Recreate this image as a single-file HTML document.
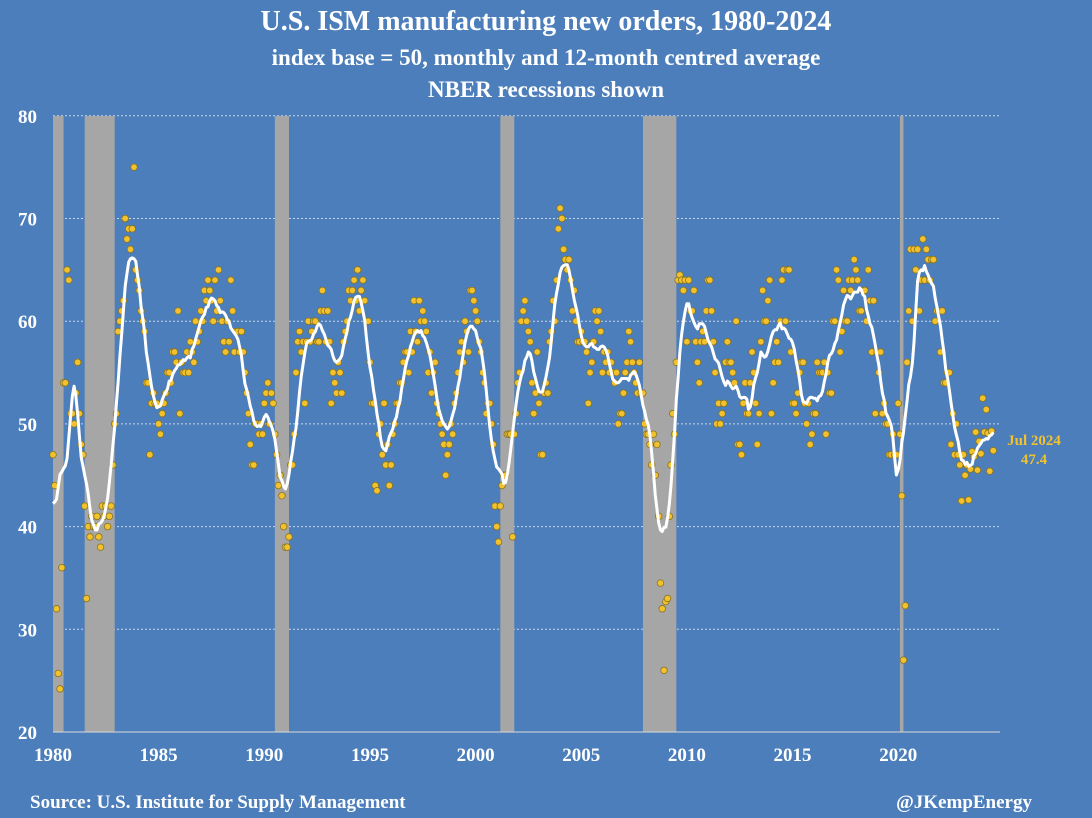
<!DOCTYPE html>
<html><head><meta charset="utf-8"><style>
body{margin:0;background:#4b7ebb;}
#c{position:relative;width:1092px;height:818px;background:#4b7ebb;font-family:"Liberation Serif",serif;color:#fff;overflow:hidden}
.t{position:absolute;left:0;width:1092px;text-align:center;font-weight:bold}
</style></head><body>
<div id="c">
<div class="t" style="top:6px;font-size:28px">U.S. ISM manufacturing new orders, 1980-2024</div>
<div class="t" style="top:45px;font-size:23px">index base = 50, monthly and 12-month centred average</div>
<div class="t" style="top:77px;font-size:23px">NBER recessions shown</div>
<svg id="s" width="1092" height="818" style="position:absolute;left:0;top:0"></svg>
<div style="position:absolute;left:30px;top:792px;font-size:19px;font-weight:bold">Source: U.S. Institute for Supply Management</div>
<div style="position:absolute;right:60px;top:792px;font-size:19px;font-weight:bold">@JKempEnergy</div>
</div>
<script>
const prior1979=[52,51,50,50,48,47];
const monthly=[
47,44,32,25.7,24.2,36,54,54,65,64,51,51,
50,53,56,51,48,47,42,33,40,39,41,40,
40,41,39,38,42,41,42,40,41,42,46,50,
51,59,60,61,62,70,68,69,67,69,75,65,
64,63,61,60,59,54,54,47,52,53,52,52,
50,49,51,52,53,55,55,54,57,57,56,61,
51,56,55,55,57,55,58,57,56,60,58,59,
61,60,63,62,64,63,62,60,64,61,65,62,
60,58,57,60,58,64,61,57,59,59,57,59,
57,55,53,51,48,46,46,50,50,49,50,49,
52,53,54,50,53,52,49,47,44,45,43,40,
38,38,39,46,46,49,55,58,59,57,58,52,
58,60,58,59,60,60,58,58,61,63,61,58,
61,58,52,55,54,53,56,55,53,58,59,60,
63,62,63,64,62,65,61,63,64,62,60,60,
56,52,52,44,43.5,49,50,47,52,46,48,44,
46,49,50,52,52,54,54,56,57,57,55,59,
57,62,59,58,62,60,61,60,59,55,57,53,
55,56,52,51,50,49,48,45,47,48,50,49,
52,53,55,57,58,56,60,59,57,63,63,62,
61,60,58,57,55,54,51,52,52,50,48,42,
40,38.5,42,44,45,45,49,49,49,39,49,51,
54,55,60,61,62,60,59,58,54,51,53,57,
52,47,47,53,54,53,58,59,62,60,64,69,
71,70,67,66,65,66,64,61,63,60,58,58,
59,58,58,57,52,55,56,58,61,60,61,59,
55,57,56,57,55,56,55,54,55,50,51,51,
53,55,56,59,58,56,55,54,53,56,53,53,
50,49,49,48,46,49,45,48,41,34.5,32,26,
32.7,33,41,46,51,49,56,64,64.5,64,63,64,
58,64,61,61,63,58,56,54,58,59,58,61,
64,64,61,58,55,50,52,50,51,52,56,58,
56,56,55,54,60,48,48,47,52,54,51,51,
54,57,55,52,48,51,58,63,60,60,62,64,
51,54,56,58,56,60,64,65,60,65,65,57,
52,52,51,53,55,56,56,52,50,52,48,49,
51,51,56,55,55,55,56,49,55,53,53,60,
60,65,64,57,59,63,60,60,64,63,64,66,
65,64,61,61,63,63,60,65,62,57,62,51,
57,55,57,51,52,50,50,47,47,49,47,47,
52,49,43,27,32.3,56,61,67,60,67,65,67,
61,64,68,64,67,66,64,66,66,60,61,61,
57,61,54,54,55,55,48,51,47,50,47,46,
42.5,47,45,46,42.6,45.6,47.3,46.8,49.2,45.5,48.3,47.1,
52.5,49.2,51.4,49.1,45.4,49.3,47.4];
const recStart=[1980.0,1981.5,1990.5,2001.17,2007.92,2020.08];
const recEnd=[1980.5,1982.92,1991.17,2001.83,2009.5,2020.25];
const yTicks=[20,30,40,50,60,70,80];
const xTicks=[1980,1985,1990,1995,2000,2005,2010,2015,2020];
const startYear=1980;
const X0=53,PX=21.13,Y0=732,PY=10.27,L=53,R=1000,T=116;
const xs=t=>X0+(t-startYear)*PX, ys=v=>Y0-(v-20)*PY;
const s=document.getElementById('s'),NS='http://www.w3.org/2000/svg';
function mk(tag,a,p){const e=document.createElementNS(NS,tag);for(const k in a)e.setAttribute(k,a[k]);(p||s).appendChild(e);return e;}
yTicks.forEach(v=>{
 if(v>20){const g=mk('line',{x1:L,x2:R,y1:ys(v),y2:ys(v),stroke:'#c8d6ea','stroke-width':1,'stroke-dasharray':'2,2'});
 
 }
 const t=mk('text',{x:L-16,y:ys(v)+7,'text-anchor':'end','font-size':19,'font-weight':'bold',fill:'#fff'});t.textContent=v;
 
 
});
recStart.forEach((a,i)=>{const r=mk('rect',{x:xs(a),y:T,width:Math.max(2,xs(recEnd[i])-xs(a)),height:Y0-T,fill:'#a6a6a6'});
 
 });
const ax=mk('line',{x1:L,x2:R,y1:Y0,y2:Y0,stroke:'#d9d9d9','stroke-width':1});


xTicks.forEach(y=>{const t=mk('text',{x:xs(y),y:Y0+29,'text-anchor':'middle','font-size':19,'font-weight':'bold',fill:'#fff'});t.textContent=y;
 
 });
monthly.forEach((v,i)=>{const c=mk('circle',{cx:xs(startYear+i/12),cy:ys(v),r:3.3,fill:'#f2c12e',stroke:'#8a7420','stroke-width':0.8});
 
 });
const full=prior1979.concat(monthly),off=prior1979.length;
let d='';
monthly.forEach((v,i)=>{const j=i+off;let a=Math.max(0,j-6),b=Math.min(full.length-1,j+5),sm=0;for(let k=a;k<=b;k++)sm+=full[k];const m=sm/(b-a+1);
 d+=(i?'L':'M')+xs(startYear+i/12).toFixed(1)+','+ys(m).toFixed(1);});
const p=mk('path',{d:d,fill:'none',stroke:'#fff','stroke-width':3,'stroke-linejoin':'round'});


const last=monthly[monthly.length-1];
const l1=mk('text',{x:1034,y:445,'text-anchor':'middle','font-size':15,'font-weight':'bold',fill:'#f2c12e'});l1.textContent='Jul 2024';


const l2=mk('text',{x:1034,y:464,'text-anchor':'middle','font-size':15,'font-weight':'bold',fill:'#f2c12e'});l2.textContent=last.toFixed(1);


</script>
</body></html>
